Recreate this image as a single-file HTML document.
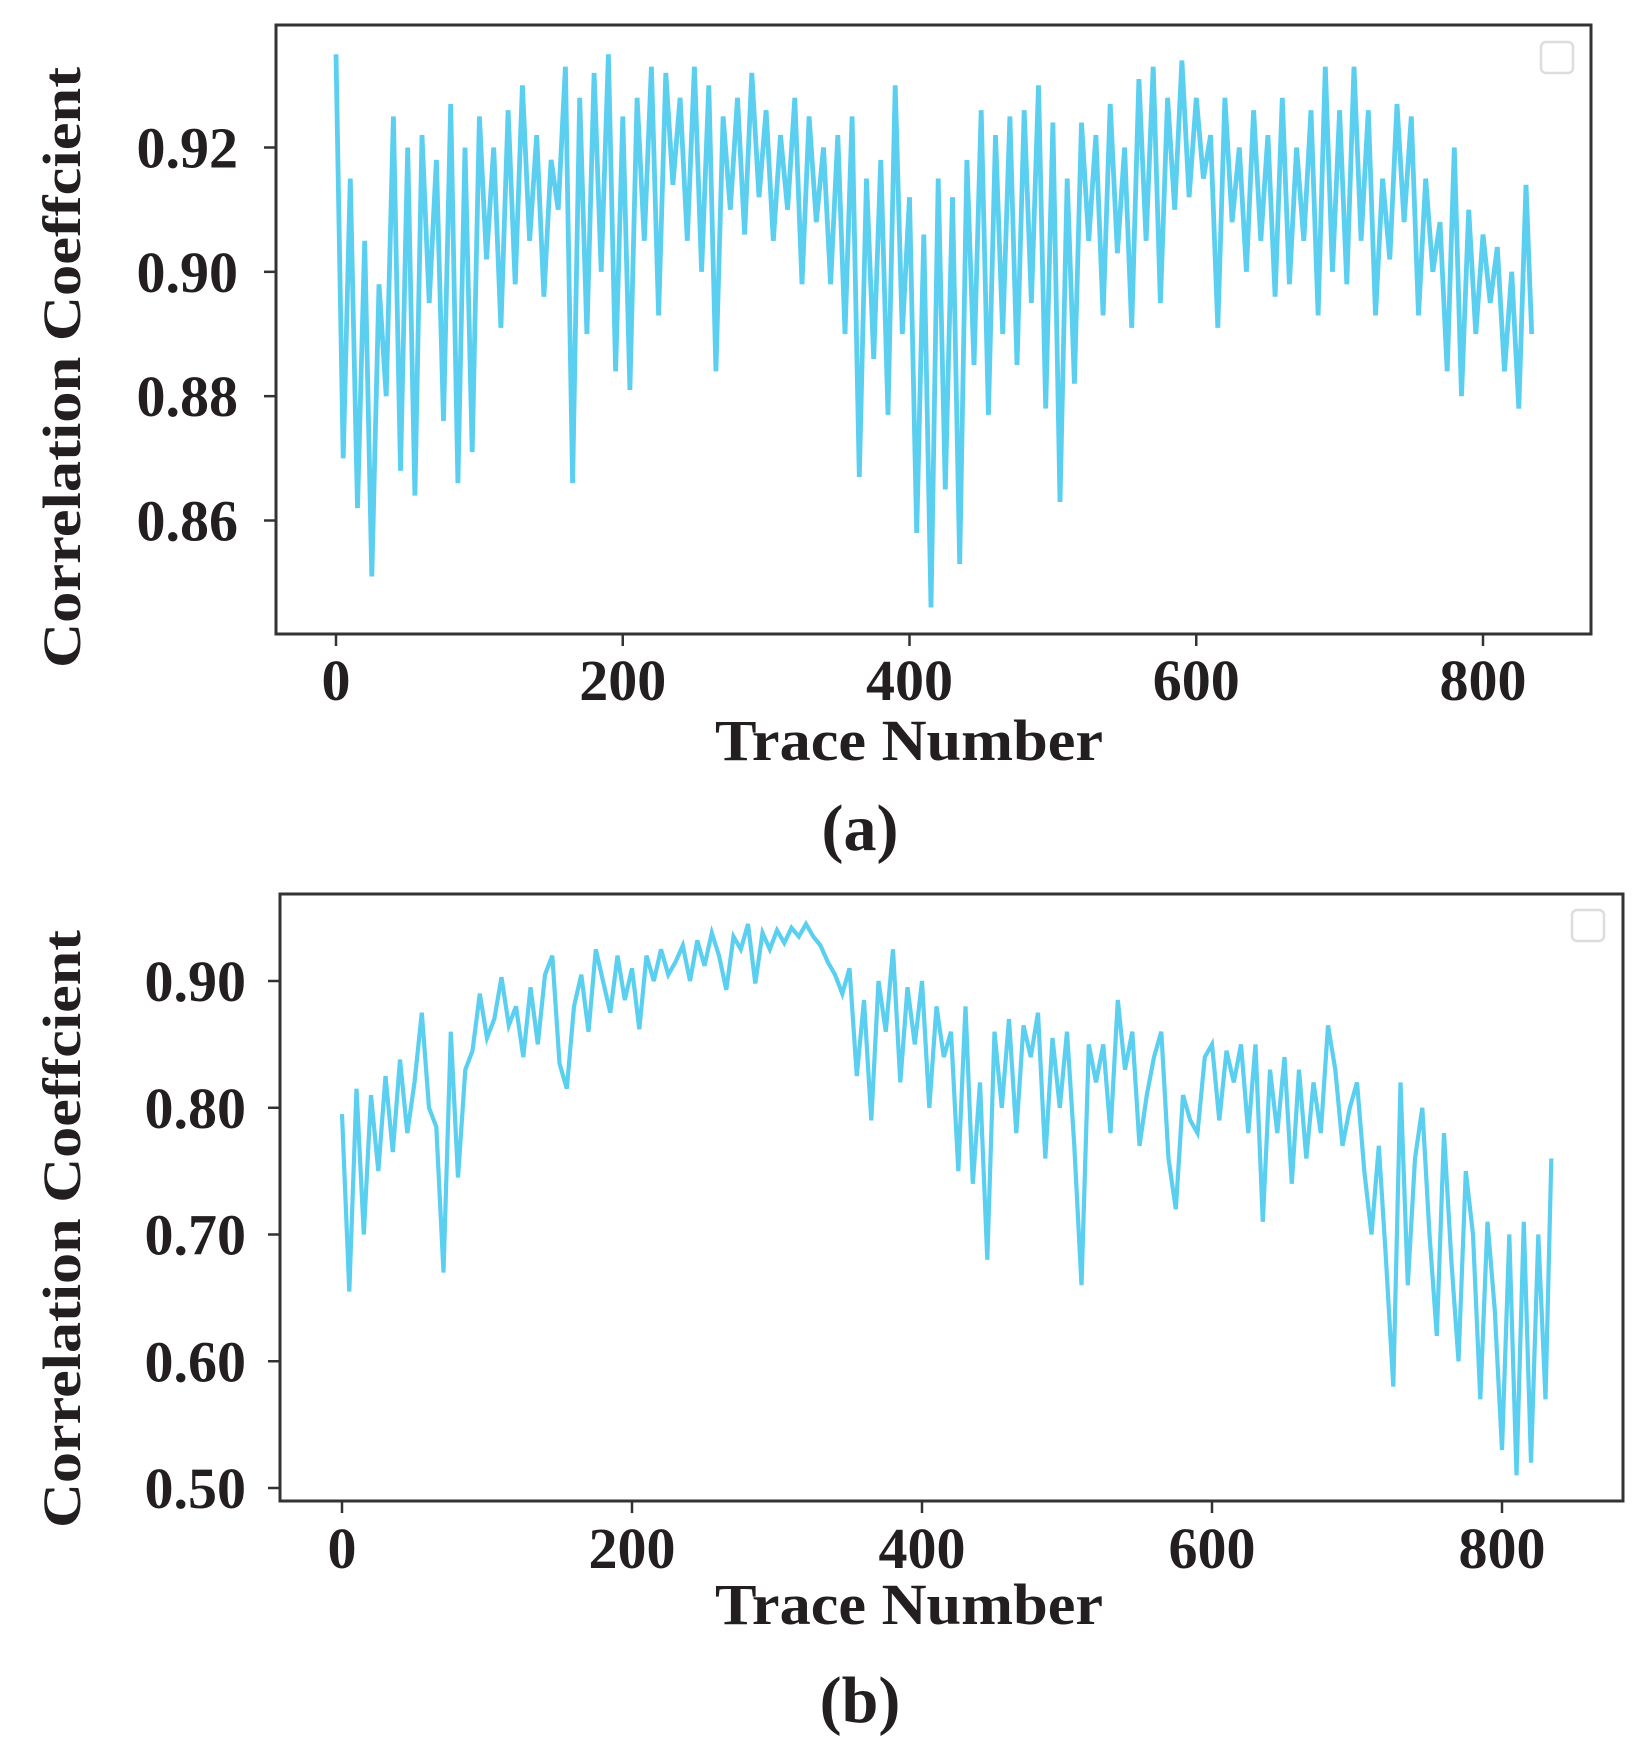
<!DOCTYPE html>
<html><head><meta charset="utf-8"><style>
html,body{margin:0;padding:0;background:#fff;}
svg{display:block;}
text{font-family:"Liberation Serif",serif;font-weight:bold;fill:#231f20;}
</style></head><body>
<svg id="fig" width="1648" height="1750" viewBox="0 0 1648 1750"></svg>
<script>
const traceStep = 5;
const seriesA = [
0.935,0.870,0.915,0.862,0.905,0.851,0.898,0.880,0.925,0.868,0.920,0.864,0.922,0.895,0.918,0.876,0.927,0.866,0.920,0.871,
0.925,0.902,0.920,0.891,0.926,0.898,0.930,0.905,0.922,0.896,0.918,0.910,0.933,0.866,0.928,0.890,0.932,0.900,0.935,0.884,
0.925,0.881,0.928,0.905,0.933,0.893,0.932,0.914,0.928,0.905,0.933,0.900,0.930,0.884,0.925,0.910,0.928,0.906,0.932,0.912,
0.926,0.905,0.922,0.910,0.928,0.898,0.925,0.908,0.920,0.898,0.922,0.890,0.925,0.867,0.915,0.886,0.918,0.877,0.930,0.890,
0.912,0.858,0.906,0.846,0.915,0.865,0.912,0.853,0.918,0.885,0.926,0.877,0.922,0.890,0.925,0.885,0.926,0.895,0.930,0.878,
0.924,0.863,0.915,0.882,0.924,0.905,0.922,0.893,0.927,0.903,0.920,0.891,0.931,0.905,0.933,0.895,0.928,0.910,0.934,0.912,
0.928,0.915,0.922,0.891,0.928,0.908,0.920,0.900,0.926,0.905,0.922,0.896,0.928,0.898,0.920,0.905,0.926,0.893,0.933,0.900,
0.926,0.898,0.933,0.905,0.926,0.893,0.915,0.902,0.927,0.908,0.925,0.893,0.915,0.900,0.908,0.884,0.920,0.880,0.910,0.890,
0.906,0.895,0.904,0.884,0.900,0.878,0.914,0.890];
const seriesB = [
0.795,0.655,0.815,0.700,0.810,0.750,0.825,0.765,0.838,0.780,0.820,0.875,0.800,0.785,0.670,0.860,0.745,0.830,0.845,0.890,
0.855,0.870,0.903,0.865,0.880,0.840,0.895,0.850,0.905,0.920,0.835,0.815,0.880,0.905,0.860,0.925,0.900,0.875,0.920,0.885,
0.910,0.862,0.920,0.900,0.925,0.905,0.915,0.928,0.900,0.932,0.912,0.938,0.920,0.893,0.935,0.925,0.945,0.898,0.938,0.925,
0.940,0.930,0.942,0.935,0.945,0.935,0.928,0.915,0.905,0.890,0.910,0.825,0.885,0.790,0.900,0.860,0.925,0.820,0.895,0.850,
0.900,0.800,0.880,0.840,0.860,0.750,0.880,0.740,0.820,0.680,0.860,0.800,0.870,0.780,0.865,0.840,0.875,0.760,0.855,0.800,
0.860,0.770,0.660,0.850,0.820,0.850,0.780,0.885,0.830,0.860,0.770,0.810,0.840,0.860,0.760,0.720,0.810,0.790,0.780,0.840,
0.850,0.790,0.845,0.820,0.850,0.780,0.850,0.710,0.830,0.780,0.840,0.740,0.830,0.760,0.820,0.780,0.865,0.830,0.770,0.800,
0.820,0.750,0.700,0.770,0.680,0.580,0.820,0.660,0.760,0.800,0.700,0.620,0.780,0.680,0.600,0.750,0.700,0.570,0.710,0.640,
0.530,0.700,0.510,0.710,0.520,0.700,0.570,0.760];
const xTicks = [0,200,400,600,800];
const yTicksA = [0.86,0.88,0.90,0.92];
const yTicksB = [0.50,0.60,0.70,0.80,0.90];

const NS='http://www.w3.org/2000/svg';
const svg=document.getElementById('fig');
function mk(tag,attrs,parent){const e=document.createElementNS(NS,tag);for(const k in attrs)e.setAttribute(k,attrs[k]);(parent||svg).appendChild(e);return e;}

function panel(cfg){
  const g=mk('g',{});
  
  
  const xs=v=>cfg.x0+(v-0)*(cfg.x800-cfg.x0)/800;
  const ys=v=>cfg.yRef1+(v-cfg.vRef1)*(cfg.yRef2-cfg.yRef1)/(cfg.vRef2-cfg.vRef1);
  let d='';
  cfg.data.forEach((v,i)=>{const t=Math.min(i*traceStep,834);d+=(i?'L':'M')+xs(t).toFixed(1)+' '+ys(v).toFixed(1);});
  const p=mk('path',{d:d,fill:'none',stroke:'#5bcff0','stroke-width':cfg.sw,'stroke-linejoin':'miter'},g);
  
  
  const r=mk('rect',{x:cfg.L,y:cfg.T,width:cfg.R-cfg.L,height:cfg.B-cfg.T,fill:'none',stroke:'#333','stroke-width':3},g);
  
  
  const lg=mk('rect',{x:cfg.lx,y:cfg.ly,width:32,height:31,rx:5,fill:'#fff',stroke:'#ddd','stroke-width':2.5},g);
  
  
  xTicks.forEach(v=>{
    mk('line',{x1:xs(v),x2:xs(v),y1:cfg.B,y2:cfg.B+12,stroke:'#333','stroke-width':2.5},g);
    const t=mk('text',{x:xs(v),y:cfg.xLabY,'text-anchor':'middle','font-size':58},g);
    t.textContent=String(v);
    
    
  });
  cfg.yTicks.forEach(v=>{
    mk('line',{x1:cfg.L-12,x2:cfg.L,y1:ys(v),y2:ys(v),stroke:'#333','stroke-width':2.5},g);
    const t=mk('text',{x:cfg.yLabX,y:ys(v)+20,'text-anchor':'end','font-size':58},g);
    t.textContent=v.toFixed(2);
    
    
  });
  const xt=mk('text',{x:909,y:cfg.xTitleY,'text-anchor':'middle','font-size':58,textLength:388,lengthAdjust:'spacingAndGlyphs'},g);
  xt.textContent='Trace Number';
  
  
  const cy=(cfg.yt1+cfg.yt2)/2;
  const yt=mk('text',{x:0,y:0,'text-anchor':'middle','font-size':54,textLength:cfg.yt2-cfg.yt1,lengthAdjust:'spacingAndGlyphs',transform:'translate(80,'+cy+') rotate(-90)'},g);
  yt.textContent='Correlation Coeffcient';
  
  
  const cap=mk('text',{x:860,y:cfg.capY,'text-anchor':'middle','font-size':66},g);
  cap.textContent=cfg.cap;
  
  
}

panel({name:'panel-a',data:seriesA,yTicks:yTicksA,L:276,T:25,R:1591,B:634,x0:336,x800:1483,sw:4.8,
  vRef1:0.92,yRef1:147.5,vRef2:0.86,yRef2:520.5,lx:1541,ly:42,xLabY:700,yLabX:238,xTitleY:760,yt1:67,yt2:668,capY:850,cap:'(a)'});
panel({name:'panel-b',data:seriesB,yTicks:yTicksB,L:280,T:894,R:1623,B:1501,x0:342,x800:1502,sw:4.2,
  vRef1:0.90,yRef1:981,vRef2:0.50,yRef2:1488,lx:1572,ly:910,xLabY:1568,yLabX:246,xTitleY:1624,yt1:930,yt2:1528,capY:1722,cap:'(b)'});
</script>
</body></html>
